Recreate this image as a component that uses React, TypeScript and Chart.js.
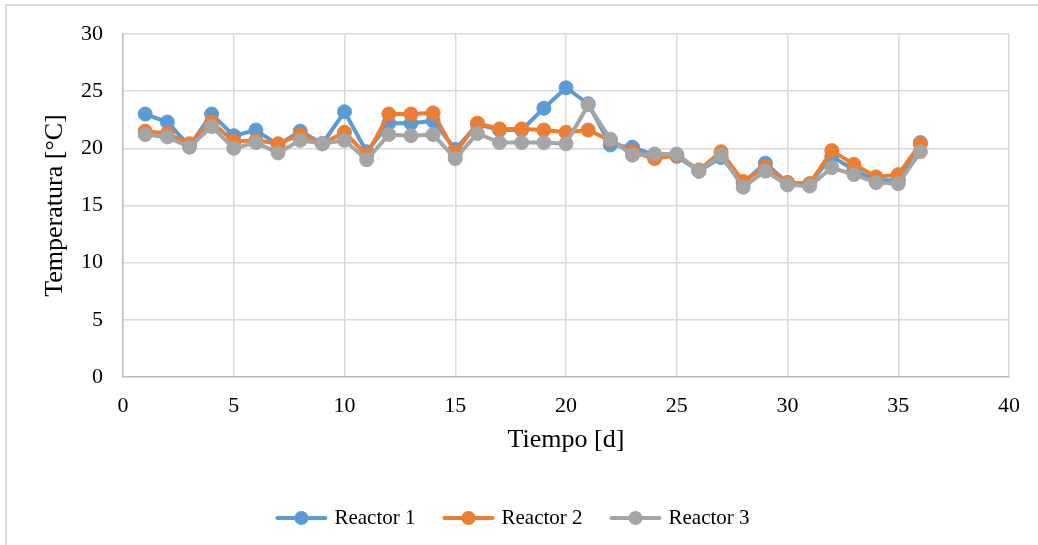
import { useEffect, useRef } from "react";
import { Chart, registerables } from "chart.js";

Chart.register(...registerables);

// Sampling days
const days = [
  1, 2, 3, 4, 5, 6, 7, 8, 9, 10, 11, 12, 13, 14, 15, 16, 17, 18,
  19, 20, 21, 22, 23, 24, 25, 26, 27, 28, 29, 30, 31, 32, 33, 34, 35, 36,
];

// Temperature per reactor [°C]
const reactor1 = [
  23.0, 22.3, 20.2, 23.0, 21.1, 21.6, 20.3, 21.5, 20.4, 23.2, 19.7, 22.2,
  22.2, 22.4, 19.9, 22.1, 21.6, 21.6, 23.5, 25.3, 23.9, 20.3, 20.1, 19.4,
  19.3, 18.0, 19.2, 17.0, 18.7, 17.0, 16.9, 19.3, 18.1, 17.2, 17.2, 20.5,
];
const reactor2 = [
  21.5, 21.3, 20.4, 22.3, 20.6, 20.7, 20.4, 21.2, 20.4, 21.4, 19.4, 23.0,
  23.0, 23.1, 19.6, 22.2, 21.7, 21.7, 21.6, 21.4, 21.6, 20.7, 19.7, 19.1,
  19.4, 18.1, 19.7, 17.1, 18.4, 17.0, 16.9, 19.8, 18.6, 17.5, 17.7, 20.4,
];
const reactor3 = [
  21.2, 21.0, 20.1, 21.9, 20.0, 20.5, 19.6, 20.7, 20.4, 20.7, 19.0, 21.2,
  21.1, 21.2, 19.1, 21.3, 20.5, 20.5, 20.5, 20.4, 23.8, 20.8, 19.4, 19.5,
  19.5, 18.0, 19.4, 16.6, 18.0, 16.8, 16.7, 18.3, 17.7, 17.0, 16.9, 19.7,
];

const seriesLabels = ["Reactor 1", "Reactor 2", "Reactor 3"];
const seriesColors = ["#5B9BD5", "#ED7D31", "#A5A5A5"];

const xTicks = { min: 0, max: 40, step: 5 };
const yTicks = { min: 0, max: 30, step: 5 };

const FONT = "'Liberation Serif', 'Times New Roman', serif";

// Legend with a line-and-marker sample for each series, centred under the plot
const lineLegend = {
  id: "lineLegend",
  afterDraw(chart: any) {
    const ctx: CanvasRenderingContext2D = chart.ctx;
    const sample = 50;
    const gap = 8;
    const spacing = 28;
    const y = 518;
    ctx.save();
    ctx.font = `21px ${FONT}`;
    const items = chart.data.datasets.map((ds: any) => ({
      ds,
      w: ctx.measureText(ds.label).width,
    }));
    const total =
      items.reduce((s: number, it: any) => s + sample + gap + it.w, 0) +
      spacing * (items.length - 1);
    let x = 513 - total / 2;
    for (const it of items) {
      const c = it.ds.borderColor;
      ctx.strokeStyle = c;
      ctx.lineWidth = 4;
      ctx.lineCap = "round";
      ctx.beginPath();
      ctx.moveTo(x + 1, y);
      ctx.lineTo(x + sample - 1, y);
      ctx.stroke();
      ctx.fillStyle = c;
      ctx.beginPath();
      ctx.arc(x + sample / 2, y, 7, 0, Math.PI * 2);
      ctx.fill();
      ctx.fillStyle = "#000";
      ctx.textBaseline = "middle";
      ctx.textAlign = "left";
      ctx.fillText(it.ds.label, x + sample + gap, y);
      x += sample + gap + it.w + spacing;
    }
    ctx.restore();
  },
};

export default function App() {
  const canvasRef = useRef<HTMLCanvasElement | null>(null);

  useEffect(() => {
    const canvas = canvasRef.current;
    if (!canvas) return;
    const values = [reactor1, reactor2, reactor3];
    const chart = new Chart(canvas, {
      type: "line",
      data: {
        datasets: values.map((vals, i) => ({
          label: seriesLabels[i],
          data: days.map((d, j) => ({ x: d, y: vals[j] })),
          borderColor: seriesColors[i],
          backgroundColor: seriesColors[i],
          pointBackgroundColor: seriesColors[i],
          pointBorderColor: seriesColors[i],
          borderWidth: 4,
          pointRadius: 7,
          pointBorderWidth: 1,
          tension: 0,
          order: values.length - i,
        })),
      },
      options: {
        responsive: false,
        animation: false,
        events: [],
        layout: { padding: { left: 0, top: 34, right: 29, bottom: 75 } },
        plugins: {
          legend: { display: false },
          tooltip: { enabled: false },
        },
        scales: {
          x: {
            type: "linear",
            min: xTicks.min,
            max: xTicks.max,
            ticks: {
              stepSize: xTicks.step,
              padding: 16,
              color: "#000",
              font: { family: FONT, size: 22 },
              maxRotation: 0,
            },
            grid: { color: "#D9D9D9", lineWidth: 1.5, drawTicks: false },
            border: { color: "#BFBFBF", width: 1.5 },
            title: {
              display: true,
              text: "Tiempo [d]",
              color: "#000",
              font: { family: FONT, size: 26 },
              padding: { top: 0, bottom: 14 },
            },
            afterFit: (s: any) => {
              s.height = 93;
            },
          },
          y: {
            type: "linear",
            min: yTicks.min,
            max: yTicks.max,
            ticks: {
              stepSize: yTicks.step,
              padding: 20,
              color: "#000",
              font: { family: FONT, size: 22 },
            },
            grid: { color: "#D9D9D9", lineWidth: 1.5, drawTicks: false },
            border: { color: "#BFBFBF", width: 1.5 },
            title: {
              display: true,
              text: "Temperatura [°C]",
              color: "#000",
              font: { family: FONT, size: 26 },
              padding: { top: 40, bottom: 0 },
            },
            afterFit: (s: any) => {
              s.width = 123;
            },
          },
        },
      },
      plugins: [lineLegend],
    });
    return () => chart.destroy();
  }, []);

  return (
    <div
      style={{
        position: "absolute",
        left: 0,
        top: 0,
        width: 1038,
        height: 545,
        background: "#fff",
      }}
    >
      <div
        style={{
          position: "absolute",
          left: 5,
          top: 4,
          width: 1033,
          height: 541,
          borderTop: "2px solid #D9D9D9",
          borderLeft: "2px solid #D9D9D9",
          boxSizing: "border-box",
        }}
      />
      <canvas
        ref={canvasRef}
        width={1038}
        height={545}
        style={{ position: "absolute", left: 0, top: 0 }}
      />
    </div>
  );
}
